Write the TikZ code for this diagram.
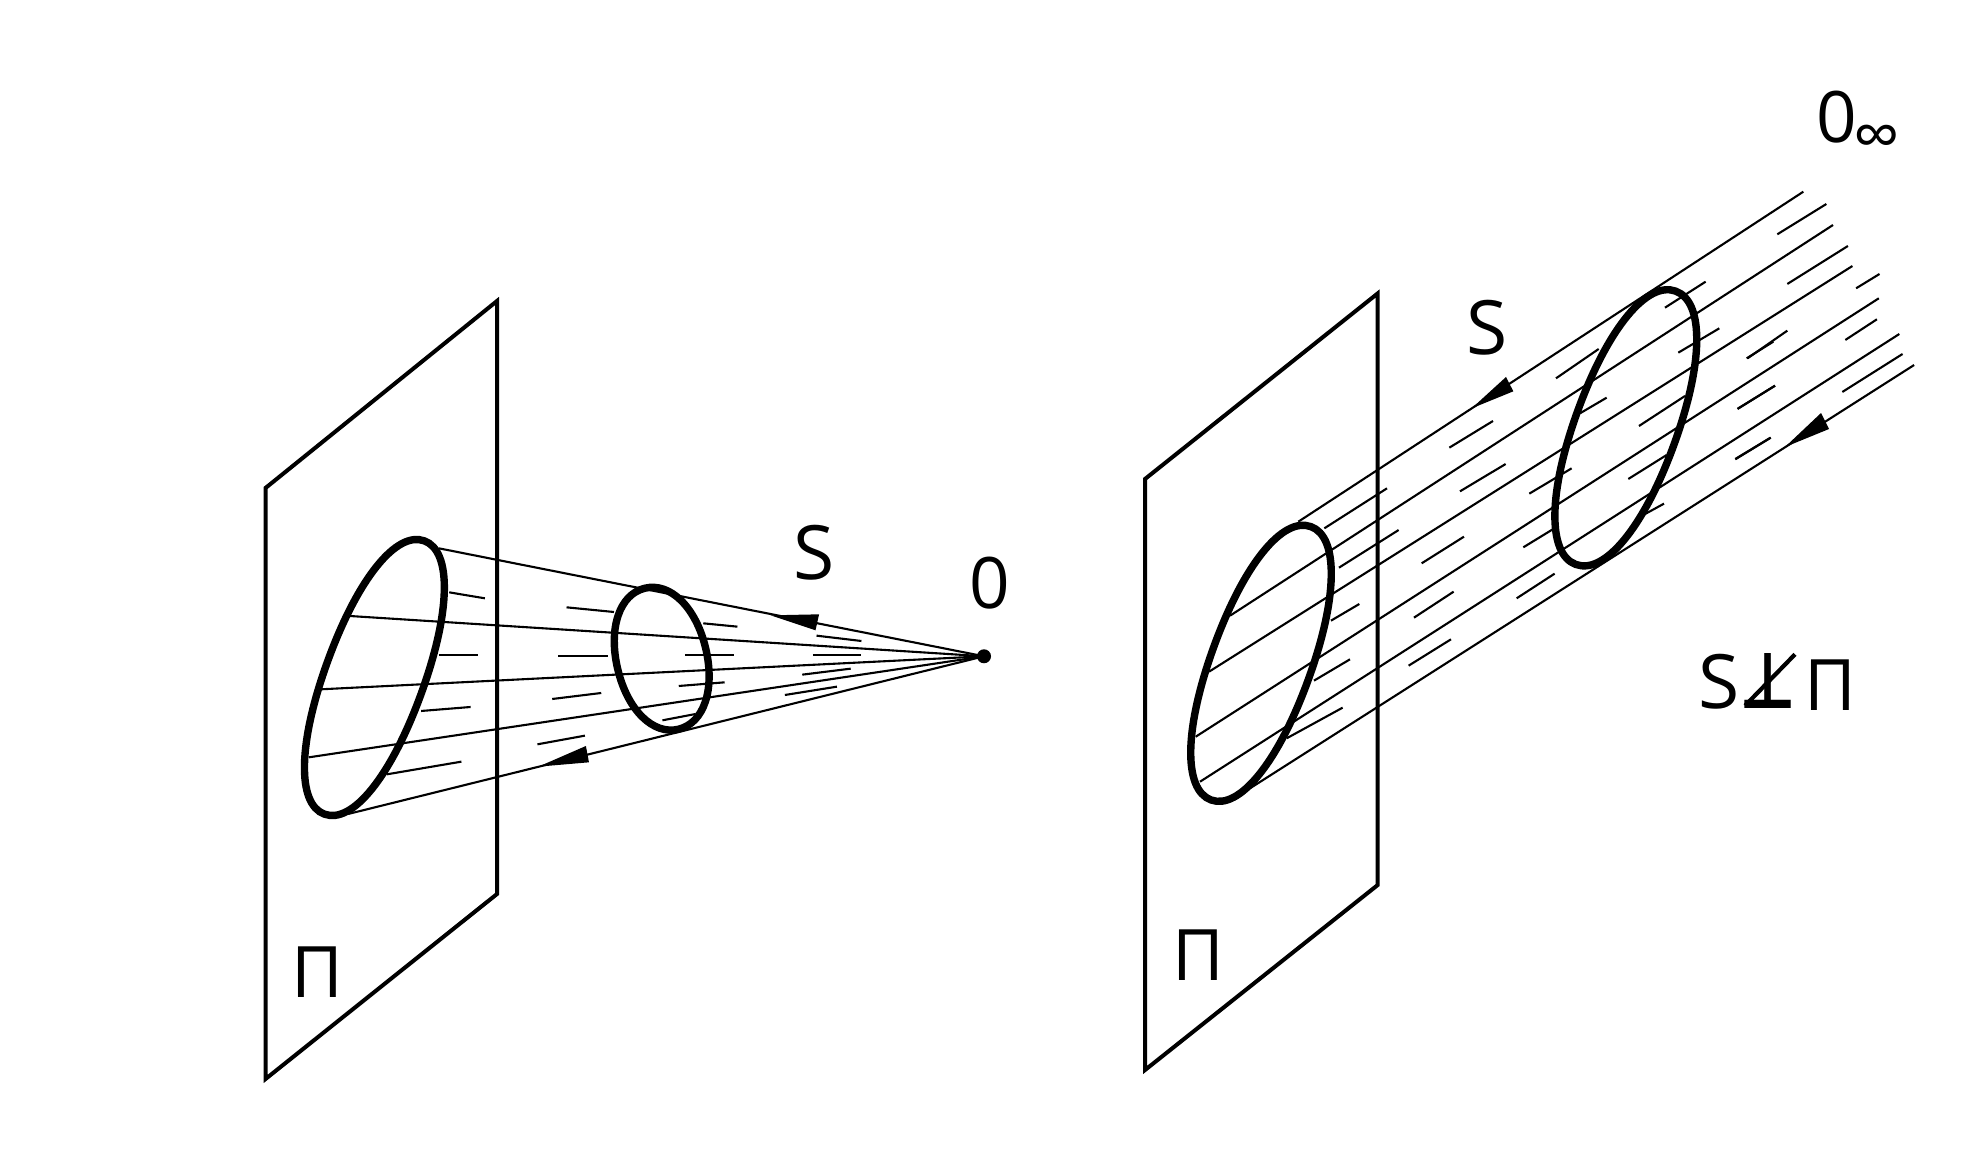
\documentclass[tikz,border=0pt]{standalone}
\usepackage{fontspec}
\newfontfamily\labfont{Open Sans}
\newfontfamily\symfont{DejaVu Sans Bold}
\tikzset{
  plane/.style={draw=black,line width=4pt,line join=miter},
  rayline/.style={draw=black,line width=2.1pt},
  loopline/.style={draw=black,line width=7.4pt},
  tip/.style={fill=black,draw=none},
  lab/.style={inner sep=0pt,anchor=base,font=\labfont\fontsize{71}{71}\selectfont},
  labs/.style={inner sep=0pt,anchor=base,font=\labfont\fontsize{75}{75}\selectfont},
  zl/.style={shift={(240,500)},x=0.5102pt,y=-0.3333pt},
  zr/.style={shift={(1130,450)},x=0.3333pt,y=-0.3333pt},
  zt/.style={shift={(1420,260)},x=0.3333pt,y=-0.3333pt},
  zu/.style={shift={(1400,70)},x=0.3717pt,y=-0.3333pt}
}
% #1 centre x, #2 centre y, #3 rotation, #4 short radius, #5 long radius, #6 fullness
\newcommand{\loopshape}[6]{%
  \draw[loopline,shift={(#1,#2)},rotate=#3]
    (0,-#5) .. controls ({#6*#4},-#5) and (#4,{-#6*#5}) .. (#4,0)
            .. controls (#4,{#6*#5}) and ({#6*#4},#5) .. (0,#5)
            .. controls ({-#6*#4},#5) and (-#4,{#6*#5}) .. (-#4,0)
            .. controls (-#4,{-#6*#5}) and ({-#6*#4},-#5) .. (0,-#5) -- cycle;}
\begin{document}
\begin{tikzpicture}[x=1pt,y=-1pt]
\useasboundingbox (0,0) rectangle (1983,1170);
% planes
\draw[plane] (265.5,488) -- (497,301) -- (497,894) -- (265.5,1079) -- cycle;
\draw[plane] (1145,479) -- (1377.7,293.4) -- (1377.7,885) -- (1145,1070) -- cycle;
% left: point O
\coordinate (o) at (984,519*1.2645);
\fill (o) circle (7);
\begin{scope}[zl]
  \foreach \a/\b in {390/145,215/348,158/568,135/772,212/942}
    \draw[rayline] (\a,\b) -- (o);
  \foreach \a/\b/\c/\d in {
    410/277/480/295,640/322/733/336,908/370/975/380,1130/407/1218/423,
    390/465/467/465,624/468/722/468,872/466/968/466,1123/466/1217/466,
    355/633/452/621,612/597/708/579,860/558/950/547,1102/524/1197/506,
    288/823/434/785,583/733/676/707,828/661/893/642,1068/585/1170/560}
    \draw[rayline] (\a,\b) -- (\c,\d);
  \fill[tip] (1040,346) -- (1135,343) -- (1128,391) -- cycle;
  \fill[tip] (585,800) -- (678,738) -- (684,787) -- cycle;
\end{scope}
\loopshape{374.4}{677.5}{-20.07}{49.5}{145.5}{.6}
\loopshape{661.7}{658.7}{13.4}{45.2}{72.5}{.58}
% right: parallel rays (true pixel coordinates)
\foreach \a/\b/\c/\d in {
   1298.3/521.7/1803.3/191.7,
   1230/615.7/1833/225,
   1209/671.7/1852.4/266,
   1195.7/736.7/1878.8/298.3,
   1200/781.7/1899.3/334,
   1250/788.3/1914.1/365}
  \draw[rayline] (\a,\b) -- (\c,\d);
\begin{scope}[zr]
  \foreach \a/\b/\c/\d in {
    583/235/771/115,627/353/806/240,603/512/688/462,552/692/660/628,470/865/638/773,
    990/124/1127/42,875/340/1002/260,852/503/971/425,836/647/963/568,
    1198/131/1325/55,1180/292/1270/237,1160/445/1274/371}
    \draw[rayline] (\a,\b) -- (\c,\d);
\end{scope}
\loopshape{1261}{663.3}{-20.07}{50}{145.5}{.6}
\begin{scope}[zt]
  \foreach \a/\b/\c/\d in {
    735/143/857/65,775/278/898/205,980/295/1060/245,408/355/536/267,480/460/560/413,
    657/498/795/408,88/563/219/483,625/657/740/585,670/765/732/731}
    \draw[rayline] (\a,\b) -- (\c,\d);
  \fill[tip] (155,445) -- (258,351) -- (280,394) -- cycle;
\end{scope}
\loopshape{1625.8}{427.8}{-20.07}{51}{145.5}{.6}
\begin{scope}[zu]
  \foreach \a/\b/\c/\d in {
    1015/493/1147/402,1042/642/1205/528,1227/655/1290/612,1198/810/1283/748,
    1190/966/1352/852,935/865/1042/782,908/1017/1009/947,902/1167/997/1103}
    \draw[rayline] (\a,\b) -- (\c,\d);
\end{scope}
\draw[rayline] (1737.7,408.7) -- (1775,385.7);
\draw[rayline] (1735.3,459.3) -- (1770.7,437.7);
\fill[tip] (1785,447) -- (1821,413) -- (1829,429) -- cycle;
% labels
\node[lab] (piA) at (317,997) {Π};
\node[lab] (piB) at (1198,980) {Π};
\node[labs] (sA) at (814.5,579) {S};
\node[lab] (zeroA) at (990,608) {0};
\node[labs] (sB) at (1487.5,354) {S};
\node[lab,anchor=base west] (zeroB) at (1816,142) {0\kern-3pt\raisebox{-16pt}{\fontsize{66}{66}\selectfont ∞}};
\node[labs] (sC) at (1719.5,708) {S};
\node[inner sep=0pt,anchor=base,xscale=.8,font=\symfont\fontsize{78}{78}\selectfont] (perp) at (1768,708) {⊥};
\node[lab] (piC) at (1830,710) {Π};
\draw[line width=4.2pt] (1745,705.7) -- (1795,654.3);
\end{tikzpicture}
\end{document}
